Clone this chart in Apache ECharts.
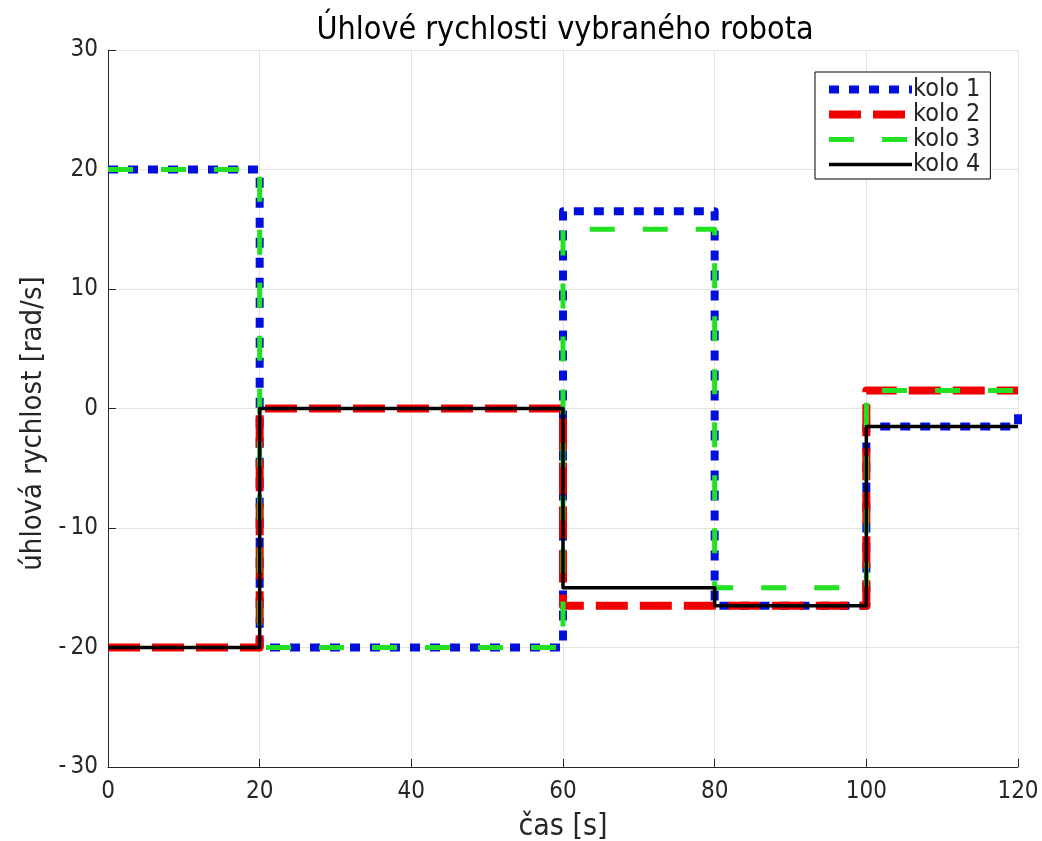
<!DOCTYPE html>
<html>
<head>
<meta charset="utf-8">
<script src="https://cdn.jsdelivr.net/npm/echarts@6/dist/echarts.min.js"></script>
<style>
  html, body { margin: 0; padding: 0; background: #fff; }
  #chart { width: 1042px; height: 841px; }
</style>
</head>
<body>
<div id="chart"></div>
<script>
// Switching times of the wheel speed profile [s]
const times = [0, 20, 60, 80, 100, 120];
// Angular speed of each wheel per interval [rad/s]; last entry is the value at t = 120 s
const kolo1 = [20, -20, 16.5, -16.5, -1.5, -0.4];
const kolo2 = [-20, 0, -16.5, -16.5, 1.5, 1.5];
const kolo3 = [20, -20, 15, -15, 1.5, 0.4];
const kolo4 = [-20, 0, -15, -16.5, -1.5, -1.5];
const seriesNames = ['kolo 1', 'kolo 2', 'kolo 3', 'kolo 4'];
const xTicks = [0, 20, 40, 60, 80, 100, 120];
const yTicks = [-30, -20, -10, 0, 10, 20, 30];

const FONT = '"DejaVu Sans Condensed", "Open Sans", sans-serif';
const textColor = '#262626';

const pairs = v => times.map((t, i) => [t, v[i]]);

const styles = [
  { color: '#0010dc', width: 8, type: [10, 10] },
  { color: '#f00000', width: 8, type: [32, 12] },
  { color: '#22e022', width: 5, type: [25, 28] },
  { color: '#000000', width: 3.5, type: 'solid' }
];

const chart = echarts.init(document.getElementById('chart'), null, { renderer: 'canvas' });
chart.setOption({
  animation: false,
  backgroundColor: '#ffffff',
  title: {
    text: 'Úhlové rychlosti vybraného robota',
    left: 560,
    textAlign: 'center',
    top: 10,
    textStyle: { fontFamily: FONT, fontSize: 32, fontWeight: 'normal', color: '#000' }
  },
  grid: { left: 108, right: 24, top: 50, bottom: 74, outerBoundsMode: 'none', containLabel: false },
  legend: {
    orient: 'vertical',
    left: 815,
    top: 72,
    itemWidth: 83,
    itemHeight: 14,
    itemGap: 0,
    padding: [5, 10, 2, 10],
    backgroundColor: '#fff',
    borderColor: '#000',
    borderWidth: 1,
    borderRadius: 0,
    data: seriesNames.map((n, i) => ({
      name: n,
      itemStyle: { opacity: 0 },
      lineStyle: { color: styles[i].color, width: styles[i].width, type: styles[i].type, cap: 'butt' }
    })),
    textStyle: { fontFamily: FONT, fontSize: 25, color: textColor, padding: [0, 0, 0, -4] }
  },
  xAxis: {
    type: 'value',
    min: 0, max: 120, interval: 20,
    name: 'čas [s]',
    nameLocation: 'middle',
    nameGap: 45,
    nameTextStyle: { fontFamily: FONT, fontSize: 30, color: textColor },
    axisLine: { onZero: false, lineStyle: { color: textColor, width: 1 } },
    axisTick: { inside: true, length: 8, lineStyle: { color: textColor } },
    axisLabel: {
      fontFamily: FONT, fontSize: 24, color: textColor, margin: 13,
      formatter: v => xTicks.includes(v) ? String(v) : ''
    },
    splitLine: { show: true, lineStyle: { color: '#e3e3e3', width: 1 } }
  },
  yAxis: {
    type: 'value',
    min: -30, max: 30, interval: 10,
    name: 'úhlová rychlost [rad/s]',
    nameLocation: 'middle',
    nameGap: 51,
    nameRotate: 90,
    nameTextStyle: { fontFamily: FONT, fontSize: 29, color: textColor, padding: [0, 30, 0, 0] },
    axisLine: { show: true, onZero: false, lineStyle: { color: textColor, width: 1 } },
    axisTick: { show: true, inside: true, length: 8, lineStyle: { color: textColor } },
    axisLabel: {
      fontFamily: FONT, fontSize: 24, color: textColor, margin: 10,
      formatter: v => yTicks.includes(v) ? String(v).replace('-', '-\u2009') : ''
    },
    splitLine: { show: true, lineStyle: { color: '#e3e3e3', width: 1 } }
  },
  series: [kolo1, kolo2, kolo3, kolo4].map((v, i) => ({
    name: seriesNames[i],
    type: 'line',
    step: 'end',
    data: pairs(v),
    symbol: 'none',
    color: styles[i].color,
    lineStyle: {
      color: styles[i].color,
      width: styles[i].width,
      type: styles[i].type,
      cap: 'butt',
      join: 'round'
    },
    z: 2 + i
  }))
});
</script>
</body>
</html>
